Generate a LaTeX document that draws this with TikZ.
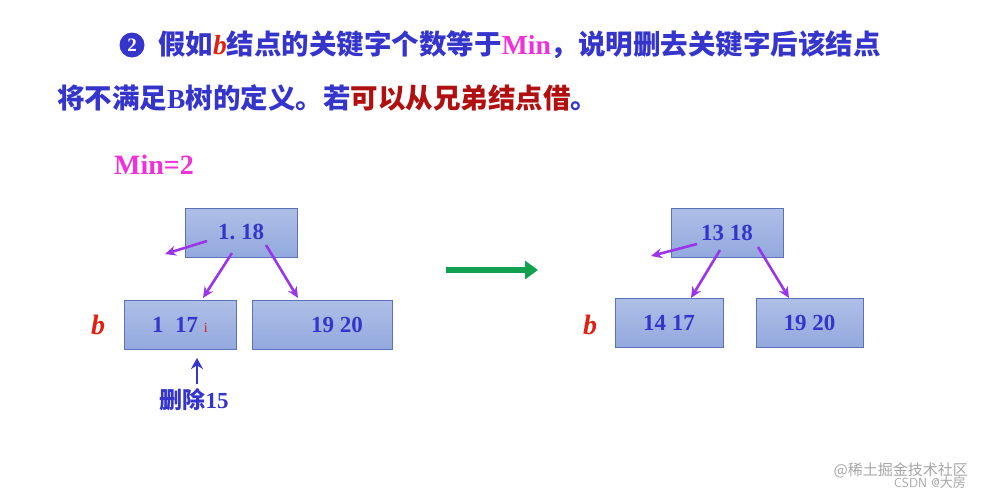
\documentclass[tikz,border=0pt]{standalone}
\usepackage{fontspec}
\setmainfont{Liberation Serif}
\newfontfamily\cjk{Noto Sans CJK SC}
\usetikzlibrary{arrows.meta}
\definecolor{tblue}{HTML}{3535CC}
\definecolor{tmag}{HTML}{F030D8}
\definecolor{tred}{HTML}{E02010}
\definecolor{tdred}{HTML}{B01010}
\definecolor{nfill}{HTML}{93A9DE}
\definecolor{nbord}{HTML}{5A72B8}
\definecolor{parr}{HTML}{9A35E8}
\definecolor{garr}{HTML}{10A050}
\tikzset{
 keybox/.style={draw=nbord,line width=0.8pt,top color=nfill!75!white,bottom color=nfill,font=\bfseries\fontsize{23}{23}\selectfont,text=tblue,inner sep=0pt},
 ptr/.style={draw=parr,line width=2.6pt,-{Stealth[length=11pt,width=10pt]}},
 bl/.style={text=tred,font=\bfseries\itshape\fontsize{28}{28}\selectfont},
}
\begin{document}
\begin{tikzpicture}[x=1pt,y=-1pt]
\useasboundingbox[fill=white] (0,0) rectangle (982,498);
% title
\node[circle,fill=tblue,inner sep=0pt,minimum size=25pt,text=white,font=\bfseries\fontsize{19}{19}\selectfont] (c2) at (132,45) {2};
\node[anchor=west,inner sep=0pt,font=\fontsize{27.5}{27.5}\selectfont\bfseries,text=tblue] (t1) at (158,45) {{\cjk 假如}\textcolor{tred}{\itshape b}{\cjk 结点的关键字个数等于}\textcolor{tmag}{Min}{\cjk ，说明删去关键字后该结点}};
\node[anchor=west,inner sep=0pt,font=\fontsize{27.5}{27.5}\selectfont\bfseries,text=tblue] (t2) at (57,98) {{\cjk 将不满足}B{\cjk 树的定义。若}\textcolor{tdred}{\cjk 可以从兄弟结点借}{\cjk 。}};
\node[text=tmag,font=\bfseries\fontsize{28}{28}\selectfont,inner sep=0pt] (min) at (154,165) {Min=2};
% left tree
\node[keybox,minimum width=112pt,minimum height=49pt] (LT) at (241,232.5) {1.\ 18};
\node[keybox,minimum width=112pt,minimum height=49pt] (LL) at (180,324.5) {1\ \ 17\ \textcolor{tred}{\mdseries\fontsize{14}{14}\selectfont i}};
\node[keybox,minimum width=140pt,minimum height=49pt] (LR) at (322,324.5) {\hspace*{30pt}19 20};
\coordinate (l0) at (165,254);
\draw[ptr] (207,241) -- (l0);
\draw[ptr] (232,253) -- (203,298);
\draw[ptr] (266,245) -- (298,298);
\node[bl] (b1) at (98,325) {b};
\node[text=tblue,font=\bfseries\fontsize{23}{23}\selectfont,inner sep=0pt] (del) at (194,400) {{\cjk 删除}15};
\coordinate (d0) at (197,384);
\draw[draw=tblue,line width=2.6pt,-{Stealth[length=11pt,width=12pt]}] (d0) -- (197,358);
% green arrow
\coordinate (g0) at (446,270);
\coordinate (g1) at (538,270);
\draw[draw=garr,line width=6pt,-{Triangle[length=13pt,width=18pt]}] (g0) -- (g1);
% right tree
\node[keybox,minimum width=112pt,minimum height=49pt] (RT) at (727,232.5) {13 18};
\node[keybox,minimum width=108pt,minimum height=49pt] (RL) at (669,322.5) {14 17};
\node[keybox,minimum width=107pt,minimum height=49pt] (RR) at (809.5,322.5) {19 20};
\coordinate (r0) at (651,256);
\draw[ptr] (697,244) -- (r0);
\draw[ptr] (720,250) -- (691,298);
\draw[ptr] (758,247) -- (789,298);
\node[bl] (b2) at (590,325) {b};
% watermark
\node[text=gray!70,font=\cjk\fontsize{15}{15}\selectfont,anchor=east,inner sep=0pt] (wm1) at (968,470) {@稀土掘金技术社区};
\node[text=gray!70,font=\fontsize{13}{13}\selectfont\sffamily,anchor=east,inner sep=0pt] (wm2) at (966,483) {CSDN @{\cjk 大房}};
\end{tikzpicture}
\end{document}
